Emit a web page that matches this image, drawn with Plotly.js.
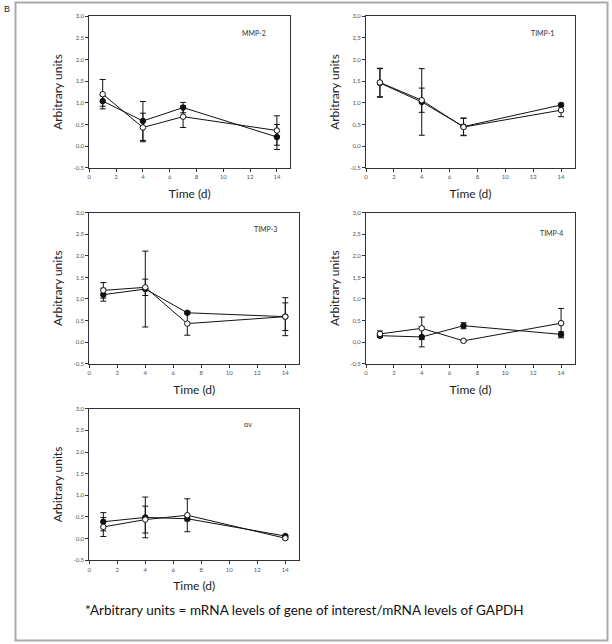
<!DOCTYPE html>
<html>
<head>
<meta charset="utf-8">
<script src="https://cdn.plot.ly/plotly-3.0.1.min.js"></script>
<style>html,body{margin:0;padding:0;background:#fff;}#chart{width:612px;height:644px;}</style>
</head>
<body>
<div id="chart"></div>
<script>
// ---- data ----
var days = [1, 4, 7, 14];
var panelNames = ["MMP-2", "TIMP-1", "TIMP-3", "TIMP-4", "\u03b1v"];

var mmp2Filled = [1.04, 0.58, 0.89, 0.21];
var mmp2FilledErr = [0.12, 0.45, 0.12, 0.29];
var mmp2Open = [1.20, 0.43, 0.68, 0.36];
var mmp2OpenErr = [0.34, 0.33, 0.25, 0.34];

var timp1Filled = [1.46, 1.02, 0.45, 0.95];
var timp1FilledErr = [0.33, 0.77, 0.20, 0.04];
var timp1Open = [1.47, 1.06, 0.44, 0.83];
var timp1OpenErr = [0.33, 0.28, 0.20, 0.15];

var timp3Filled = [1.10, 1.23, 0.68, 0.59];
var timp3FilledErr = [0.15, 0.88, 0.03, 0.32];
var timp3Open = [1.20, 1.27, 0.43, 0.59];
var timp3OpenErr = [0.18, 0.19, 0.27, 0.44];

var timp4Filled = [0.15, 0.12, 0.38, 0.18];
var timp4FilledErr = [0.04, 0.23, 0.07, 0.06];
var timp4Open = [0.19, 0.32, 0.03, 0.44];
var timp4OpenErr = [0.07, 0.26, 0.02, 0.34];

var avFilled = [0.39, 0.49, 0.46, 0.06];
var avFilledErr = [0.21, 0.47, 0.05, 0.02];
var avOpen = [0.27, 0.44, 0.54, 0.01];
var avOpenErr = [0.22, 0.31, 0.38, 0.02];

var yTickVals = [-0.5, 0, 0.5, 1, 1.5, 2, 2.5, 3];
var yTickText = ["-0,5", "0,0", "0,5", "1,0", "1,5", "2,0", "2,5", "3,0"];
var xTickVals = [0, 2, 4, 6, 8, 10, 12, 14];
var xTickText = ["0", "2", "4", "6", "8", "10", "12", "14"];

var xTitle = "Time (d)";
var yTitle = "Arbitrary units";
var footnote = "*Arbitrary units = mRNA levels of gene of interest/mRNA levels of GAPDH";

// ---- layout helpers ----
var W = 612, H = 644;
function px(x) { return x / W; }
function py(y) { return 1 - y / H; }

// plot-area boxes in pixels: [left, right, top, bottom]
var boxes = [
  [89.3, 290.3, 16.3, 167.7],
  [366, 575, 16.3, 167.7],
  [89.3, 299.3, 212.7, 363.7],
  [366, 575, 212.7, 363.7],
  [89.3, 299.3, 408.7, 560.3]
];
var labelPos = [[12.3, 2.61], [12.7, 2.61], [12.6, 2.62], [13.3, 2.52], [11.3, 2.64]];

var seriesList = [
  [mmp2Filled, mmp2FilledErr, mmp2Open, mmp2OpenErr],
  [timp1Filled, timp1FilledErr, timp1Open, timp1OpenErr],
  [timp3Filled, timp3FilledErr, timp3Open, timp3OpenErr],
  [timp4Filled, timp4FilledErr, timp4Open, timp4OpenErr],
  [avFilled, avFilledErr, avOpen, avOpenErr]
];

var font = "Lato, 'Open Sans', 'Liberation Sans', sans-serif";
var traces = [];
var layout = {
  width: W, height: H,
  margin: {l: 0, r: 0, t: 0, b: 0},
  paper_bgcolor: "#fff", plot_bgcolor: "#fff",
  showlegend: false,
  font: {family: font, color: "#222"},
  annotations: [],
  shapes: []
};

seriesList.forEach(function (s, i) {
  var n = i + 1;
  var xa = "x" + (n === 1 ? "" : n), ya = "y" + (n === 1 ? "" : n);
  var err = function (arr) {
    return {type: "data", array: arr, visible: true, color: "#111", thickness: 1, width: 3};
  };
  traces.push({
    x: days, y: s[0], xaxis: xa, yaxis: ya, type: "scatter", mode: "lines+markers",
    name: panelNames[i] + " (filled)",
    line: {color: "#111", width: 1},
    marker: {symbol: "circle", size: 5.5, color: "#111", line: {color: "#111", width: 1}},
    error_y: err(s[1]), cliponaxis: false
  });
  traces.push({
    x: days, y: s[2], xaxis: xa, yaxis: ya, type: "scatter", mode: "lines+markers",
    name: panelNames[i] + " (open)",
    line: {color: "#111", width: 1},
    marker: {symbol: "circle", size: 5.5, color: "#fff", line: {color: "#111", width: 1}},
    error_y: err(s[3]), cliponaxis: false
  });
  var b = boxes[i];
  var axCommon = {
    showline: true, mirror: true, linecolor: "#333", linewidth: 1,
    ticks: "outside", ticklen: 3, tickwidth: 1, tickcolor: "#333",
    showgrid: false, zeroline: false, fixedrange: true,
    tickfont: {size: 6, color: "#555", family: font}
  };
  layout["xaxis" + (n === 1 ? "" : n)] = Object.assign({}, axCommon, {
    domain: [px(b[0]), px(b[1])], anchor: ya, range: [0, 15],
    tickmode: "array", tickvals: xTickVals, ticktext: xTickText,
    title: {text: xTitle, font: {size: 12, color: "#222", family: font}, standoff: 10}
  });
  layout["yaxis" + (n === 1 ? "" : n)] = Object.assign({}, axCommon, {
    domain: [py(b[3]), py(b[2])], anchor: xa, range: [-0.5, 3.0],
    tickmode: "array", tickvals: yTickVals, ticktext: yTickText,
    title: {text: yTitle, font: {size: 12, color: "#222", family: font}, standoff: 8}
  });
  layout.annotations.push({
    xref: xa, yref: ya, x: labelPos[i][0], y: labelPos[i][1],
    text: panelNames[i], showarrow: false,
    font: {size: 7, color: "#333", family: font}
  });
});

layout.annotations.push({
  xref: "paper", yref: "paper", x: px(304.5), y: py(610),
  text: footnote, showarrow: false, xanchor: "center", yanchor: "middle",
  font: {size: 13.5, color: "#111", family: font}
});
layout.annotations.push({
  xref: "paper", yref: "paper", x: px(2), y: py(2),
  text: "B", showarrow: false, xanchor: "left", yanchor: "top",
  font: {size: 9, color: "#222", family: "'Liberation Sans', sans-serif"}
});
layout.shapes.push({
  type: "rect", xref: "paper", yref: "paper",
  x0: px(15.5), x1: px(607.5), y0: py(640.5), y1: py(2.5),
  line: {color: "#aaa", width: 2}, fillcolor: "rgba(0,0,0,0)", layer: "below"
});

Plotly.newPlot("chart", traces, layout, {staticPlot: true, displayModeBar: false});
</script>
</body>
</html>
